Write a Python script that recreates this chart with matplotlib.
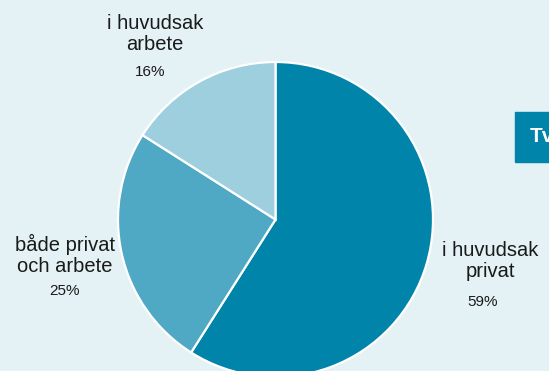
import matplotlib.pyplot as plt

# Andel per användningsområde
categories = ["i huvudsak\nprivat", "både privat\noch arbete", "i huvudsak\narbete"]
shares = [59, 25, 16]
colors = ["#0084a9", "#4fa8c4", "#9dcfde"]

bg = "#e4f1f5"
plt.rcParams['font.family'] = ['Liberation Sans', 'DejaVu Sans']

fig = plt.figure(figsize=(5.49, 3.71), dpi=100, facecolor=bg)
ax = fig.add_axes([0, 0, 1, 1])
ax.set_facecolor(bg)

cx, cy, r = 275.5, 151.5, 157.5
ax.pie(shares, colors=colors, startangle=90, counterclock=False,
       center=(cx, cy), radius=r, frame=True,
       wedgeprops=dict(edgecolor='white', linewidth=1.6))
ax.set_xlim(0, 549)
ax.set_ylim(0, 371)
ax.set_aspect('equal')
ax.axis('off')

# label anchors (name centre, percent centre)
label_pos = [((490, 110), (483, 69)),
             ((65, 116), (64, 80)),
             ((155, 337), (150, 299))]
for name, val, (p_name, p_val) in zip(categories, shares, label_pos):
    ax.text(*p_name, name, ha='center', va='center', fontsize=14.5,
            color='#1a1a1a', linespacing=1.1)
    ax.text(*p_val, f"{val}%", ha='center', va='center', fontsize=11,
            color='#1a1a1a')

# sidoruta som skärs av i kanten
ax.add_patch(plt.Rectangle((515, 209), 40, 50, color='#0084a9', clip_on=True))
ax.text(530, 234, "Tv", ha='left', va='center', fontsize=15,
        fontweight='bold', color='white')

fig.savefig("out.png", dpi=100, facecolor=bg)
